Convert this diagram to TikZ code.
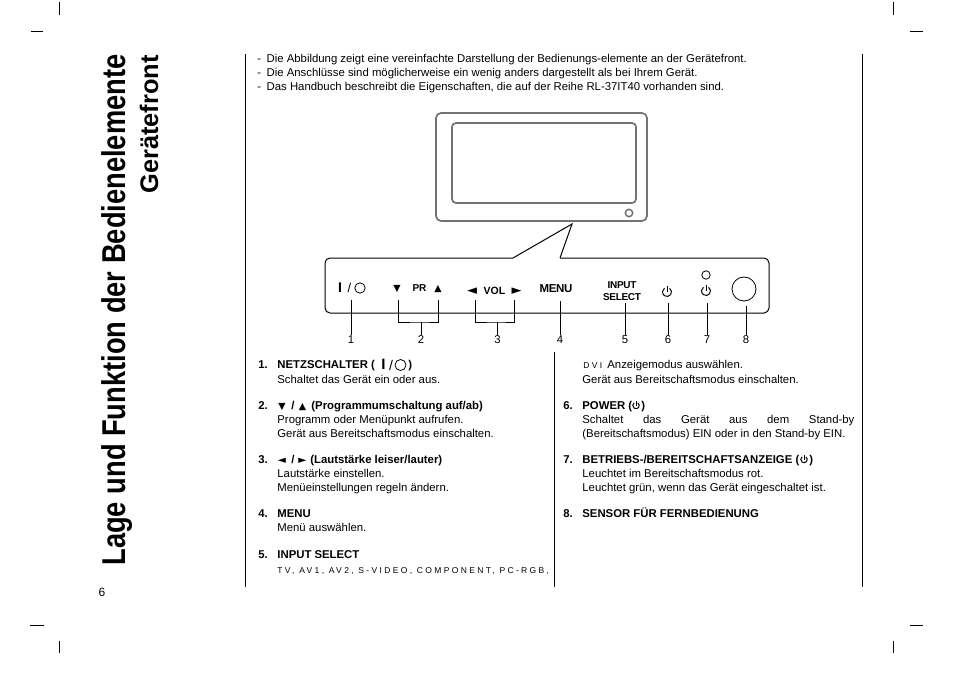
\documentclass[tikz,border=0pt]{standalone}
\usepackage{fontspec}
\setmainfont{Liberation Sans}
\newfontfamily\symfont{DejaVu Sans}
\usetikzlibrary{arrows.meta}
\tikzset{
  powersign/.pic={
    \draw[line width=1pt] (55:4.5pt) arc[start angle=55,end angle=-235,radius=4.5pt];
    \draw[line width=1pt] (0,0) -- (0,6.5pt);
  },
  linetxt/.style={anchor=west,inner sep=0pt,text height=8pt,text depth=0pt,font=\fontsize{11.35}{13}\selectfont},
  headtxt/.style={linetxt,font=\fontsize{11.35}{13}\selectfont\bfseries},
  gaptxt/.style={linetxt,font=\fontsize{8.5}{10}\selectfont\addfontfeature{LetterSpace=27.7}},
  marktxt/.style={linetxt,font=\fontsize{9.5}{10}\selectfont\symfont},
  numtxt/.style={inner sep=0pt,font=\fontsize{11.35}{13}\selectfont},
  paneltxt/.style={inner sep=0pt,font=\fontsize{10}{12}\selectfont\bfseries},
  cropmark/.style={line width=0.9pt},
  tvline/.style={draw=black!55,line width=1.7pt,rounded corners=5pt},
}
\begin{document}
\begin{tikzpicture}[x=1pt,y=-1pt,line width=0.8pt]
  \useasboundingbox (0,0) rectangle (954,674);
  % crop marks
  \draw[cropmark] (59,2) -- (59,15);
  \draw[cropmark] (31,31) -- (43,31);
  \draw[cropmark] (893,2) -- (893,15);
  \draw[cropmark] (910,31) -- (923,31);
  \draw[cropmark] (59,641) -- (59,653);
  \draw[cropmark] (30,625) -- (44,625);
  \draw[cropmark] (893,641) -- (893,653);
  \draw[cropmark] (910,625) -- (923,625);
  % side titles and column rules
  \node[rotate=90,anchor=base west,inner sep=0pt,font=\fontsize{33}{36}\selectfont\bfseries] (maintitle) at (125,566) {\scalebox{0.827}[1]{Lage und Funktion der Bedienelemente}};
  \node[rotate=90,anchor=base east,inner sep=0pt,font=\fontsize{25.4}{28}\selectfont\bfseries] (subtitle) at (158,55) {Gerätefront};
  \node[numtxt,font=\fontsize{12}{14}\selectfont] (pagenum) at (102,592) {6};
  \draw (245,54) -- (245,587);
  \draw (554,352) -- (554,587);
  \draw (862,54) -- (862,587);
  % notes on top
  \node[linetxt] (noteone) at (257,59) {-\hspace{5.5pt}Die Abbildung zeigt eine vereinfachte Darstellung der Bedienungs-elemente an der Gerätefront.};
  \node[linetxt] (notetwo) at (257,73) {-\hspace{5.5pt}Die Anschlüsse sind möglicherweise ein wenig anders dargestellt als bei Ihrem Gerät.};
  \node[linetxt] (notethree) at (257,87) {-\hspace{5.5pt}Das Handbuch beschreibt die Eigenschaften, die auf der Reihe RL-37IT40 vorhanden sind.};
  % tv set
  \draw[tvline] (436,113) rectangle (647,221);
  \draw[tvline,rounded corners=4pt] (452,123) rectangle (636,203);
  \draw[draw=black!55,line width=1.5pt] (629,213) circle (3.7pt);
  % control panel with the callout
  \draw[line width=1pt,rounded corners=5pt] (513,258) -- (325,258) -- (325,313) -- (769,313) -- (769,258) -- (560,258);
  \draw[line width=1pt] (513,258) -- (572,224) -- (560,258);
  \node[paneltxt,font=\fontsize{14}{14}\selectfont\bfseries] (barsw) at (340,288) {I};
  \node[inner sep=0pt,font=\fontsize{13}{14}\selectfont] (slashsw) at (349.5,288) {/};
  \draw (360,288) circle (5.2pt);
  \node[paneltxt,font=\fontsize{9.5}{10}\selectfont\symfont] (prdown) at (397,289) {▼};
  \node[paneltxt] (prlabel) at (419.5,288.5) {PR};
  \node[paneltxt,font=\fontsize{9.5}{10}\selectfont\symfont] (prup) at (438,289) {▲};
  \node[paneltxt,font=\fontsize{13}{14}\selectfont\symfont] (volleft) at (472,291) {◄};
  \node[paneltxt,font=\fontsize{10.5}{12}\selectfont\bfseries] (vollabel) at (494.5,291) {VOL};
  \node[paneltxt,font=\fontsize{13}{14}\selectfont\symfont] (volright) at (516.5,291) {►};
  \node[paneltxt,font=\fontsize{11.5}{12}\selectfont\bfseries\addfontfeature{LetterSpace=-3}] (menulabel) at (556,289) {MENU};
  \node[paneltxt,font=\fontsize{10}{12}\selectfont\bfseries\addfontfeature{LetterSpace=-3}] (inputlabel) at (622,285) {INPUT};
  \node[paneltxt,font=\fontsize{10}{12}\selectfont\bfseries\addfontfeature{LetterSpace=-3}] (selectlabel) at (622,297) {SELECT};
  \pic at (667,292) {powersign};
  \pic at (706,291) {powersign};
  \draw (706,275) circle (4.2pt);
  \draw (744,289) circle (12pt);
  % numbers under the panel and their leaders
  \node[numtxt] (numone) at (351,340) {1};
  \node[numtxt] (numtwo) at (421,340) {2};
  \node[numtxt] (numthree) at (497.5,340) {3};
  \node[numtxt] (numfour) at (560,340) {4};
  \node[numtxt] (numfive) at (625,340) {5};
  \node[numtxt] (numsix) at (668,340) {6};
  \node[numtxt] (numseven) at (707,340) {7};
  \node[numtxt] (numeight) at (746,340) {8};
  \coordinate (endone) at (351,300);
  \coordinate (endprdown) at (398,300);
  \coordinate (endprup) at (438,300);
  \coordinate (joinpr) at (421,322);
  \coordinate (endvolleft) at (475,300);
  \coordinate (endvolright) at (514,300);
  \coordinate (joinvol) at (497.5,322);
  \coordinate (endfour) at (560,301);
  \coordinate (endfive) at (625,303);
  \coordinate (endsix) at (668,303);
  \coordinate (endseven) at (707,303);
  \coordinate (endeight) at (746,306);
  \draw (numone.north) ++(0,-1) -- (endone);
  \draw (endprdown) |- (joinpr) -| (endprup);
  \draw (numtwo.north) ++(0,-1) -- (joinpr);
  \draw (endvolleft) |- (joinvol) -| (endvolright);
  \draw (numthree.north) ++(0,-1) -- (joinvol);
  \draw (numfour.north) ++(0,-1) -- (endfour);
  \draw (numfive.north) ++(0,-1) -- (endfive);
  \draw (numsix.north) ++(0,-1) -- (endsix);
  \draw (numseven.north) ++(0,-1) -- (endseven);
  \draw (numeight.north) ++(0,-1) -- (endeight);
  % left column
  \node[headtxt] (itemone) at (258,364) {1.};
  \node[headtxt] (headone) at (277,364) {NETZSCHALTER (};
  \node[headtxt,font=\fontsize{15}{15}\selectfont\bfseries] (barhead) at (381,365) {I};
  \node[inner sep=0pt,font=\fontsize{14}{14}\selectfont] (slashhead) at (391,365) {/};
  \draw (400.5,365) circle (5.5pt);
  \node[headtxt] (closeone) at (408,364) {)};
  \node[linetxt] (lineonea) at (277,379) {Schaltet das Gerät ein oder aus.};
  \node[headtxt] (itemtwo) at (258,405) {2.};
  \node[marktxt] (marktwoa) at (278,405) {▼};
  \node[headtxt] (slashtwo) at (291,405) {/};
  \node[marktxt] (marktwob) at (298.5,405) {▲};
  \node[headtxt] (headtwo) at (311,405) {(Programmumschaltung auf/ab)};
  \node[linetxt] (linetwoa) at (277,419) {Programm oder Menüpunkt aufrufen.};
  \node[linetxt] (linetwob) at (277,433) {Gerät aus Bereitschaftsmodus einschalten.};
  \node[headtxt] (itemthree) at (258,459) {3.};
  \node[marktxt,font=\fontsize{10.5}{12}\selectfont\symfont] (markthreea) at (277.5,459) {◄};
  \node[headtxt] (slashthree) at (291,459) {/};
  \node[marktxt,font=\fontsize{10.5}{12}\selectfont\symfont] (markthreeb) at (298,459) {►};
  \node[headtxt] (headthree) at (310,459) {(Lautstärke leiser/lauter)};
  \node[linetxt] (linethreea) at (277,473) {Lautstärke einstellen.};
  \node[linetxt] (linethreeb) at (277,487) {Menüeinstellungen regeln ändern.};
  \node[headtxt] (itemfour) at (258,513) {4.};
  \node[headtxt] (headfour) at (277,513) {MENU};
  \node[linetxt] (linefoura) at (277,527) {Menü auswählen.};
  \node[headtxt] (itemfive) at (258,554) {5.};
  \node[headtxt] (headfive) at (277,554) {INPUT SELECT};
  \node[gaptxt] (linefivea) at (277,569) {TV, AV1, AV2, S-VIDEO, COMPONENT, PC-RGB,};
  % right column
  \node[gaptxt] (linefiveb) at (583,364) {DVI};
  \node[linetxt] (linefivec) at (607,364) {Anzeigemodus auswählen.};
  \node[linetxt] (linefived) at (582,379) {Gerät aus Bereitschaftsmodus einschalten.};
  \node[headtxt] (itemsix) at (563,405) {6.};
  \node[headtxt] (headsix) at (582,405) {POWER (};
  \pic[scale=0.72] at (636,405.5) {powersign};
  \node[headtxt] (closesix) at (641,405) {)};
  \node[linetxt] (linesixa) at (582,419) {\makebox[272pt][s]{Schaltet das Gerät aus dem Stand-by}};
  \node[linetxt] (linesixb) at (582,433) {(Bereitschaftsmodus) EIN oder in den Stand-by EIN.};
  \node[headtxt] (itemseven) at (563,459) {7.};
  \node[headtxt] (headseven) at (582,459) {BETRIEBS-/BEREITSCHAFTSANZEIGE (};
  \pic[scale=0.72] at (804,459.5) {powersign};
  \node[headtxt] (closeseven) at (809,459) {)};
  \node[linetxt] (linesevena) at (582,473) {Leuchtet im Bereitschaftsmodus rot.};
  \node[linetxt] (linesevenb) at (582,487) {Leuchtet grün, wenn das Gerät eingeschaltet ist.};
  \node[headtxt] (itemeight) at (563,513) {8.};
  \node[headtxt] (headeight) at (582,513) {SENSOR FÜR FERNBEDIENUNG};
\end{tikzpicture}
\end{document}
